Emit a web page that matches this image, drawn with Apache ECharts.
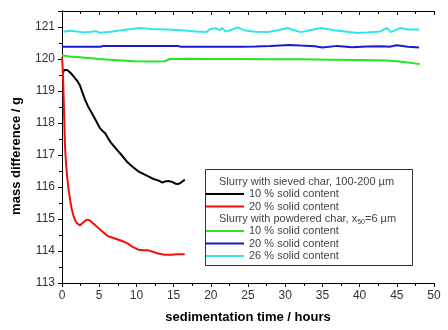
<!DOCTYPE html>
<html><head><meta charset="utf-8">
<script src="https://cdn.jsdelivr.net/npm/echarts@6/dist/echarts.min.js"></script>
<style>html,body{margin:0;padding:0;background:#fff}#c{width:448px;height:330px}</style>
</head><body><div id="c"></div>
<script>
// sedimentation time (hours), mass difference (g)
const sieved10 = [[0.1,119.55],[0.3,119.66],[0.6,119.66],[0.9,119.62],[1.3,119.53],[1.75,119.4],[2.1,119.3],[2.4,119.18],[2.75,118.95],[3.1,118.73],[3.5,118.52],[4.0,118.31],[4.5,118.1],[5.1,117.84],[5.5,117.74],[5.8,117.68],[6.2,117.52],[6.6,117.38],[7.0,117.27],[7.4,117.16],[8.0,117.0],[8.7,116.8],[9.4,116.65],[10.25,116.49],[11.0,116.4],[11.6,116.33],[12.3,116.25],[13.0,116.2],[13.5,116.14],[13.8,116.17],[14.3,116.19],[14.8,116.16],[15.3,116.1],[15.6,116.09],[16.0,116.14],[16.5,116.23]];
const sieved20 = [[0.02,120.05],[0.15,119.4],[0.28,118.3],[0.4,117.3],[0.55,116.7],[0.7,116.3],[0.9,115.9],[1.1,115.58],[1.3,115.32],[1.5,115.13],[1.75,114.97],[2.0,114.87],[2.4,114.8],[2.8,114.88],[3.3,114.98],[3.7,114.96],[4.2,114.86],[4.9,114.72],[5.5,114.59],[6.2,114.46],[7.0,114.4],[8.0,114.32],[8.8,114.24],[9.5,114.13],[10.25,114.04],[11.0,114.02],[11.6,114.02],[12.3,113.97],[12.9,113.92],[13.8,113.88],[14.7,113.88],[15.5,113.9],[16.5,113.9]];
const powder10 = [[0,120.12],[1,120.08],[2,120.06],[3.5,120.03],[5,120.0],[7,119.97],[9.8,119.93],[12,119.92],[13.8,119.93],[14.5,120.0],[17,120.01],[20,120.0],[24,120.0],[28,119.99],[32,119.99],[36.4,119.98],[40,119.97],[43.6,119.95],[45,119.93],[46.5,119.89],[48.1,119.84]];
const powder20 = [[0,120.38],[5.2,120.38],[5.5,120.41],[10,120.41],[15.5,120.41],[16,120.38],[20,120.38],[24,120.38],[26,120.39],[28,120.41],[30.6,120.44],[32,120.42],[34,120.4],[35,120.36],[37,120.41],[39,120.37],[41,120.39],[43,120.4],[44,120.38],[45,120.43],[46.5,120.38],[48,120.36]];
const powder26 = [[0.2,120.85],[1,120.88],[2,120.86],[3,120.83],[4.5,120.87],[5.1,120.82],[6.5,120.85],[8,120.9],[9,120.93],[10.5,120.97],[12,120.94],[14,120.92],[16,120.9],[18,120.86],[19.4,120.84],[19.9,120.94],[20.6,120.96],[21.2,120.9],[21.5,120.97],[22,120.86],[22.6,120.9],[23.6,120.99],[24.5,120.9],[25.9,120.85],[27.6,120.84],[29,120.9],[30.3,120.97],[31.2,120.9],[32.1,120.84],[33,120.88],[34.8,120.97],[36.6,120.9],[38,120.86],[39.7,120.81],[41,120.83],[42.8,120.86],[43.7,120.97],[44.2,120.84],[45.5,120.97],[46.5,120.92],[48,120.92]];

const seriesNames = ['s10','s20','p10','p20','p26'];
const legendLabels = {s10:'10 % solid content', s20:'20 % solid content', p10:'10 % solid content', p20:'20 % solid content', p26:'26 % solid content'};
const header1 = 'Slurry with sieved char, 100-200 µm';
const header2 = 'Slurry with powdered char, x{sub|50}=6 µm';
const xTitle = 'sedimentation time / hours';
const yTitle = 'mass difference / g';

const colors = {s10:'#000000', s20:'#ee1111', p10:'#22e622', p20:'#1a1ad0', p26:'#33e6e6'};
const dataMap = {s10:sieved10, s20:sieved20, p10:powder10, p20:powder20, p26:powder26};

const FONT = 'Liberation Sans, Arial, sans-serif';
const chart = echarts.init(document.getElementById('c'), null, {renderer:'canvas'});

const legendCommon = {
  orient:'vertical', icon:'rect', itemWidth:38, itemHeight:2, itemGap:0.5,
  selectedMode:false, padding:0, z:80, zlevel:0,
  formatter: n => legendLabels[n],
  textStyle:{fontFamily:FONT, fontSize:11, color:'#444', lineHeight:12}
};

chart.setOption({
  animation:false,
  backgroundColor:'#fff',
  grid:{left:62, right:14, top:11, bottom:47},
  legend:[
    Object.assign({left:206, top:188, data:['s10','s20']}, legendCommon),
    Object.assign({left:206, top:225, data:['p10','p20','p26']}, legendCommon)
  ],
  xAxis:[
    {type:'value', position:'bottom', min:0, max:50, interval:5,
     name:xTitle, nameLocation:'middle', nameGap:28,
     nameTextStyle:{fontFamily:FONT, fontSize:13, fontWeight:'bold', color:'#000'},
     axisLine:{show:true, lineStyle:{color:'#000', width:1}},
     axisTick:{show:true, inside:false, length:4, lineStyle:{color:'#000'}},
     minorTick:{show:true, splitNumber:2, length:3, lineStyle:{color:'#000'}},
     axisLabel:{fontFamily:FONT, fontSize:12, color:'#333', margin:7},
     splitLine:{show:false}},
    {type:'value', position:'top', min:0, max:50, interval:5,
     axisLine:{show:true, lineStyle:{color:'#000', width:1}},
     axisTick:{show:true, inside:true, length:4, lineStyle:{color:'#000'}},
     minorTick:{show:true, splitNumber:2, length:3, lineStyle:{color:'#000'}},
     axisLabel:{show:false}, splitLine:{show:false}}
  ],
  yAxis:[
    {type:'value', position:'left', min:113, max:121.5, interval:1,
     name:yTitle, nameLocation:'middle', nameGap:39,
     nameTextStyle:{fontFamily:FONT, fontSize:13, fontWeight:'bold', color:'#000', padding:[0,18,0,0]},
     axisLine:{show:true, lineStyle:{color:'#000', width:1}},
     axisTick:{show:true, inside:false, length:4, lineStyle:{color:'#000'}},
     minorTick:{show:true, splitNumber:2, length:3, lineStyle:{color:'#000'}},
     axisLabel:{fontFamily:FONT, fontSize:12, color:'#333', margin:7,
       formatter: v => Number.isInteger(v) ? String(v) : ''},
     splitLine:{show:false}},
    {type:'value', position:'right', min:113, max:121.5, interval:1,
     axisLine:{show:true, lineStyle:{color:'#000', width:1}},
     axisTick:{show:true, inside:true, length:4, lineStyle:{color:'#000'}},
     minorTick:{show:true, splitNumber:2, length:3, lineStyle:{color:'#000'}},
     axisLabel:{show:false}, splitLine:{show:false}}
  ],
  graphic:[
    {type:'rect', left:205, top:169, z:5, shape:{width:207, height:96},
     style:{fill:'#fff', stroke:'#333', lineWidth:1}},
    {type:'text', x:219, y:182, z:60,
     style:{text:header1, fontFamily:FONT, fontSize:11, fill:'#444', verticalAlign:'middle'}},
    {type:'text', x:219, y:219, z:60,
     style:{text:header2, fontFamily:FONT, fontSize:11, fill:'#444', verticalAlign:'middle',
       rich:{sub:{fontSize:7, fontFamily:FONT, fill:'#444', padding:[6,0,0,0]}}}}
  ],
  series: seriesNames.map(n => ({
    name:n, type:'line', data:dataMap[n], showSymbol:false, smooth:false,
    lineStyle:{color:colors[n], width:2}, itemStyle:{color:colors[n]}, z:3
  }))
});
</script></body></html>
